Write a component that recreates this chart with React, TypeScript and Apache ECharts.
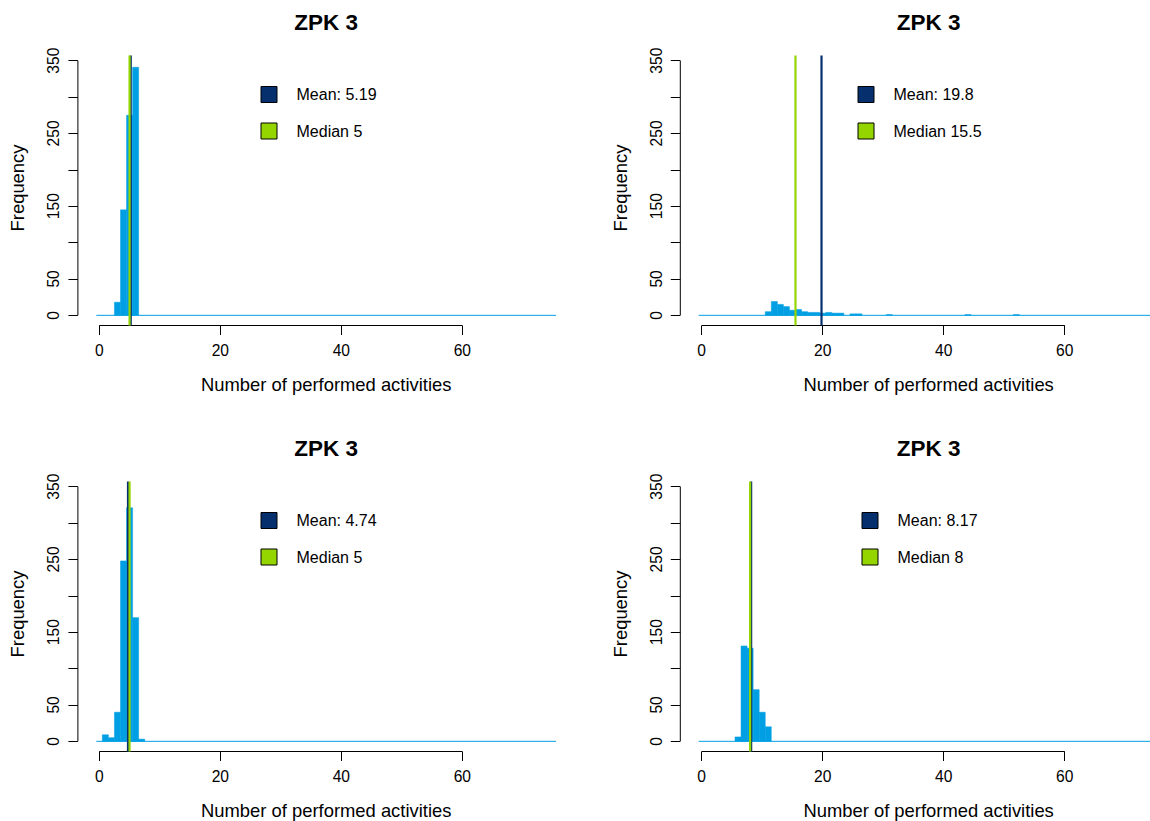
import React, { useEffect, useRef } from "react";
import * as echarts from "echarts";

// ---- data ----
const titles = ["ZPK 3", "ZPK 3", "ZPK 3", "ZPK 3"];
const xAxisTitle = "Number of performed activities";
const yAxisTitle = "Frequency";

const p1Values = [3, 4, 5, 6];
const p1Counts = [18, 145, 275, 341];
const p2Values = [11, 12, 13, 14, 15, 16, 17, 18, 19, 20, 21, 22, 23, 25, 26, 31, 44, 52];
const p2Counts = [5, 19, 15, 12, 7, 8, 5, 4, 4, 3, 4, 3, 3, 2, 2, 1, 1, 1];
const p3Values = [1, 2, 3, 4, 5, 6, 7];
const p3Counts = [9, 5, 40, 248, 321, 170, 3];
const p4Values = [6, 7, 8, 9, 10, 11];
const p4Counts = [6, 131, 128, 71, 40, 20];

const means = [5.19, 19.8, 4.74, 8.17];
const medians = [5, 15.5, 5, 8];
const meanLabels = ["Mean: 5.19", "Mean: 19.8", "Mean: 4.74", "Mean: 8.17"];
const medianLabels = ["Median 5", "Median 15.5", "Median 5", "Median 8"];

const xTicks = [0, 20, 40, 60];
const yTicks = [0, 50, 100, 150, 200, 250, 300, 350];
const yTickLabels = [0, 50, 150, 250, 350];
const binStart = -0.5;
const binEnd = 75.5;

// ---- layout / style ----
const X_MIN = -3.54;
const X_MAX = 78.54;
const Y_MIN = -14;
const Y_MAX = 364;
const BAR = "#009FE3";
const MEAN_C = "#062F6E";
const MEDIAN_C = "#94D500";
const FONT = "'Liberation Sans', Arial, Helvetica, sans-serif";
const CANVAS_W = 1190;

const grids = [
  { left: 77.9, top: 50.5, width: 496.6, height: 275 },
  { left: 680.3, top: 50.5, width: 496.6, height: 275 },
  { left: 77.9, top: 476.5, width: 496.6, height: 275 },
  { left: 680.3, top: 476.5, width: 496.6, height: 275 },
];
const legendX = [261, 858, 261, 862];

export default function App() {
  const ref = useRef<HTMLDivElement>(null);
  useEffect(() => {
    if (!ref.current) return;
    const chart = echarts.init(ref.current, null, { renderer: "svg" });
    const panels = [
      { values: p1Values, counts: p1Counts },
      { values: p2Values, counts: p2Counts },
      { values: p3Values, counts: p3Counts },
      { values: p4Values, counts: p4Counts },
    ];
    const xAxis: any[] = [];
    const yAxis: any[] = [];
    const series: any[] = [];
    const graphic: any[] = [];
    panels.forEach((p, i) => {
      const g = grids[i];
      xAxis.push({
        type: "value",
        gridIndex: i,
        min: X_MIN,
        max: X_MAX,
        splitLine: { show: false },
        axisLine: { show: false, onZero: false },
        axisTick: {
          show: true,
          inside: false,
          length: 9.5,
          customValues: xTicks,
          lineStyle: { color: "#000", width: 1 },
        },
        axisLabel: {
          customValues: xTicks,
          margin: 16.5,
          fontSize: 15.6,
          fontFamily: FONT,
          color: "#000",
        },
        name: xAxisTitle,
        nameLocation: "middle",
        nameGap: 50,
        nameTextStyle: { fontSize: 18.4, fontFamily: FONT, color: "#000" },
      });
      yAxis.push({
        type: "value",
        gridIndex: i,
        min: Y_MIN,
        max: Y_MAX,
        splitLine: { show: false },
        axisLine: { show: false, onZero: false },
        axisTick: {
          show: true,
          inside: false,
          length: 9.5,
          customValues: yTicks,
          lineStyle: { color: "#000", width: 1 },
        },
        axisLabel: {
          customValues: yTickLabels,
          rotate: 90,
          margin: 16,
          fontSize: 15.6,
          fontFamily: FONT,
          color: "#000",
        },
        name: yAxisTitle,
        nameLocation: "middle",
        nameRotate: 90,
        nameGap: 51,
        nameTextStyle: { fontSize: 18.4, fontFamily: FONT, color: "#000" },
      });
      // baseline of histogram (zero bins)
      series.push({
        type: "line",
        xAxisIndex: i,
        yAxisIndex: i,
        data: [
          [binStart, 0],
          [binEnd, 0],
        ],
        symbol: "none",
        lineStyle: { color: BAR, width: 1 },
        clip: false,
        z: 1,
      });
      // histogram bars
      series.push({
        type: "custom",
        coordinateSystem: "cartesian2d",
        xAxisIndex: i,
        yAxisIndex: i,
        data: p.values.map((v, k) => [v, p.counts[k]]),
        encode: { x: 0, y: 1 },
        renderItem: (params: any, api: any) => {
          const x = api.value(0);
          const y = api.value(1);
          const a = api.coord([x - 0.5, y]);
          const b = api.coord([x + 0.5, 0]);
          return {
            type: "rect",
            shape: { x: a[0], y: a[1], width: b[0] - a[0], height: b[1] - a[1] },
            style: { fill: BAR, stroke: BAR, lineWidth: 0.5 },
          };
        },
        z: 2,
      });
      // axis lines (R style: from first to last tick)
      series.push({
        type: "line",
        xAxisIndex: i,
        yAxisIndex: i,
        data: [
          [X_MIN, yTicks[0]],
          [X_MIN, yTicks[yTicks.length - 1]],
        ],
        symbol: "none",
        lineStyle: { color: "#000", width: 1 },
        clip: false,
        z: 3,
      });
      series.push({
        type: "line",
        xAxisIndex: i,
        yAxisIndex: i,
        data: [
          [xTicks[0], Y_MIN],
          [xTicks[xTicks.length - 1], Y_MIN],
        ],
        symbol: "none",
        lineStyle: { color: "#000", width: 1 },
        clip: false,
        z: 3,
      });
      // mean & median lines
      series.push({
        type: "line",
        xAxisIndex: i,
        yAxisIndex: i,
        data: [
          [means[i], Y_MIN],
          [means[i], 357],
        ],
        symbol: "none",
        lineStyle: { color: MEAN_C, width: 2.2 },
        clip: false,
        z: 4,
      });
      series.push({
        type: "line",
        xAxisIndex: i,
        yAxisIndex: i,
        data: [
          [medians[i], Y_MIN],
          [medians[i], 357],
        ],
        symbol: "none",
        lineStyle: { color: MEDIAN_C, width: 2.2 },
        clip: false,
        z: 5,
      });
      // title
      const cx = g.left + g.width / 2;
      const titleY = i < 2 ? 22 : 448;
      graphic.push({
        type: "text",
        x: cx,
        y: titleY,
        style: {
          text: titles[i],
          font: `bold 22.5px ${FONT}`,
          fill: "#000",
          textAlign: "center",
          textVerticalAlign: "middle",
        },
      });
      // legend
      const ly = i < 2 ? 94.5 : 520.5;
      const entries = [
        { c: MEAN_C, t: meanLabels[i], y: ly },
        { c: MEDIAN_C, t: medianLabels[i], y: ly + 36.5 },
      ];
      entries.forEach((e) => {
        graphic.push({
          type: "rect",
          shape: { x: legendX[i], y: e.y - 8, width: 16, height: 16 },
          style: { fill: e.c, stroke: "#000", lineWidth: 1 },
        });
        graphic.push({
          type: "text",
          x: legendX[i] + 35.5,
          y: e.y,
          style: {
            text: e.t,
            font: `16px ${FONT}`,
            fill: "#000",
            textAlign: "left",
            textVerticalAlign: "middle",
          },
        });
      });
    });

    chart.setOption({
      animation: false,
      backgroundColor: "#fff",
      grid: grids.map((g) => ({ ...g, containLabel: false })),
      xAxis,
      yAxis,
      series,
      graphic,
    });
    return () => chart.dispose();
  }, []);
  return (
    <div
      style={{ position: "fixed", left: 0, top: 0, width: 1150, height: 821, overflow: "hidden", background: "#fff" }}
    >
      <div ref={ref} style={{ width: CANVAS_W, height: 821 }} />
    </div>
  );
}
